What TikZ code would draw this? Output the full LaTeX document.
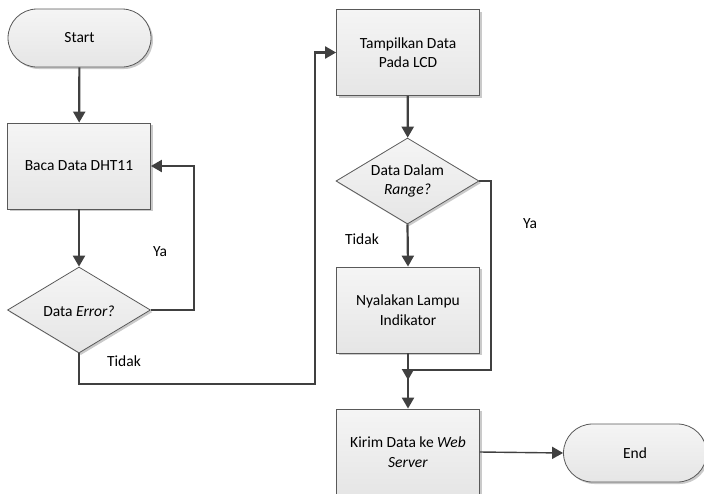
\documentclass[tikz,border=0pt]{standalone}
\usepackage{fontspec}
\setmainfont{Carlito}
\usetikzlibrary{arrows.meta,shapes.geometric,shadows}
\definecolor{lineC}{HTML}{404040}
\definecolor{edgeC}{HTML}{595959}
\begin{document}
\begin{tikzpicture}[x=1pt,y=-1pt,
  font=\fontsize{15.5}{19.5}\selectfont,
  boxshade/.style={top color=white!96!black,bottom color=white!90!black,
    draw=edgeC,line width=0.8pt,
    drop shadow={shadow xshift=2pt,shadow yshift=-2pt,fill=black!35,opacity=0.6}},
  procbox/.style={boxshade,rectangle,minimum width=143pt,minimum height=86pt,
    inner sep=2pt,align=center},
  termbox/.style={boxshade,rectangle,rounded corners=29pt,minimum width=143pt,
    minimum height=58pt,align=center},
  decbox/.style={boxshade,diamond,minimum width=143pt,minimum height=86pt,inner sep=0pt},
  flow/.style={draw=lineC,line width=2.2pt,-{Triangle[length=11pt,width=12pt]}},
  thinflow/.style={draw=lineC,line width=1.4pt,-{Triangle[length=11pt,width=12pt]}},
  tag/.style={inner sep=0pt}]
\useasboundingbox (0,0) rectangle (704,493);

% left column
\node[termbox] (start) at (79.5,38) {Start};
\node[procbox] (baca) at (79,166) {Baca Data DHT11};
\node[decbox] (err) at (79,310) {};
\node[tag] (errtxt) at (79,311) {Data \textit{Error?}};

% right column
\node[procbox] (tampil) at (408,52.5) {Tampilkan Data\\Pada LCD};
\node[decbox] (range) at (407.5,181) {};
\node[tag,align=center] (rangetxt) at (407.5,181) {Data Dalam\\\textit{Range?}};
\node[procbox] (lampu) at (408,310) {Nyalakan Lampu\\Indikator};
\node[procbox] (kirim) at (408,452) {Kirim Data ke \textit{Web}\\\textit{Server}};
\node[termbox] (end) at (635,453) {End};

% branch labels
\node[tag] (ya1) at (160,252) {Ya};
\node[tag] (tidak1) at (124,361) {Tidak};
\node[tag] (tidak2) at (362,239) {Tidak};
\node[tag] (ya2) at (530,224) {Ya};

% helper points for routed connectors
\coordinate (loopR) at (194,310);
\coordinate (tidakB) at (79,384);
\coordinate (tidakR) at (315,384);
\coordinate (yaR) at (491,181);
\coordinate (join) at (491,370);
\coordinate (joinM) at (408,370);
\coordinate (lampuEnd) at (408,380);

% connectors
\draw[flow] (start) -- (baca);
\draw[flow] (baca) -- (err);
\draw[flow] (err.east) -- (loopR) |- (baca.east);
\draw[flow] (err.south) -- (tidakB) -- (tidakR) |- (tampil.west);
\draw[flow] (tampil) -- (range);
\draw[flow] (range.south) -- (lampu.north);
\draw[flow] (lampu.south) -- (lampuEnd);
\draw[flow] (range.east) -- (yaR) -- (join) -- (joinM) -- (kirim.north);
\draw[thinflow] (kirim.east) -- (end.west);
\end{tikzpicture}
\end{document}
